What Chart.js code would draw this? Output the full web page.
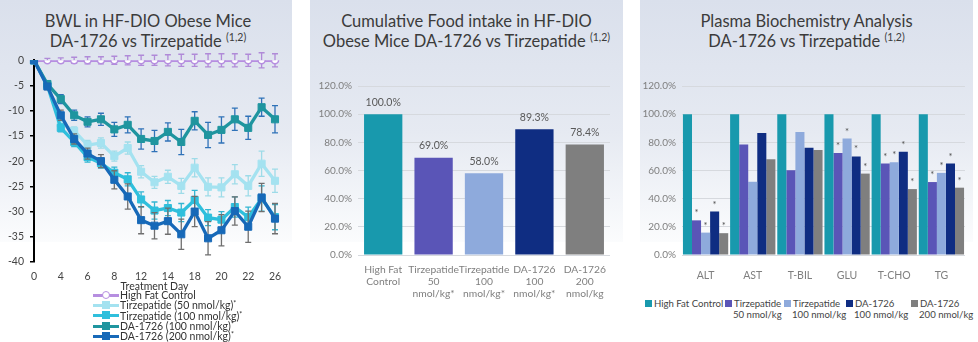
<!DOCTYPE html>
<html>
<head>
<meta charset="utf-8">
<script src="https://cdn.jsdelivr.net/npm/chart.js@4.4.1/dist/chart.umd.min.js"></script>
<style>
  body { margin: 0; width: 978px; height: 342px; background: #fff; font-family: Lato, "Open Sans", sans-serif; position: relative; overflow: hidden; }
  .panel { position: absolute; top: 0; height: 242px; background: linear-gradient(#dae0ec 0%, #e6eaf2 55%, #fbfcfd 100%); }
  .title { position: absolute; text-align: center; font-size: 16.5px; line-height: 19.5px; color: #3b3b3b; }
  .title sup { font-size: 10.5px; vertical-align: 6px; line-height: 0; }
  .cv { position: absolute; }
  .leg1 { position: absolute; left: 93px; top: 290px; font-size: 10.5px; line-height: 10.3px; color: #333; }
  .leg1 .row { display: flex; align-items: center; height: 10.3px; }
  .leg1 .sample { position: relative; width: 26px; height: 3px; margin-right: 1px; }
  .leg1 .mk { position: absolute; left: 9px; top: -3px; width: 8px; height: 8px; box-sizing: border-box; }
  .leg3 { position: absolute; top: 298px; font-size: 9.6px; line-height: 11px; color: #444; white-space: nowrap; }
  .leg3 .sq { display: inline-block; width: 7px; height: 7px; margin-right: 2px; vertical-align: 0px; }
</style>
</head>
<body>
<div class="panel" style="left:0;width:292px"></div>
<div class="panel" style="left:310px;width:313px"></div>
<div class="panel" style="left:640px;width:333px"></div>

<div class="title" style="left:0;width:296px;top:12px">BWL in HF-DIO Obese Mice<br>DA-1726 vs Tirzepatide <sup>(1,2)</sup></div>
<div class="title" style="left:305px;width:323px;top:12px">Cumulative Food intake in HF-DIO<br>Obese Mice DA-1726 vs Tirzepatide <sup>(1,2)</sup></div>
<div class="title" style="left:640px;width:333px;top:12px">Plasma Biochemistry Analysis<br>DA-1726 vs Tirzepatide <sup>(1,2)</sup></div>

<canvas id="bwl" class="cv" style="left:0;top:48px" width="292" height="245"></canvas>
<canvas id="food" class="cv" style="left:310px;top:74px" width="313" height="230"></canvas>
<canvas id="plasma" class="cv" style="left:640px;top:74px" width="333" height="210"></canvas>

<div class="leg1" id="leg1"></div>
<div id="leg3"></div>

<script>
// ---- body weight loss (%), by treatment day ----
const days = ["0", "2", "4", "5", "6", "7", "8", "10", "12", "13", "14", "16", "18", "19", "20", "21", "22", "24", "26"];
const bwlNames = ["High Fat Control", "Tirzepatide (50 nmol/kg)*", "Tirzepatide (100 nmol/kg)*", "DA-1726 (100 nmol/kg)*", "DA-1726 (200 nmol/kg)*"];
const bwlColors = ["#b68ee0", "#a4e2f0", "#2fbfdc", "#1f959f", "#1769b8"];
const errColors = ["#b08ad8", "#9edbe8", "#34b6d2", "#2f72b8", "#6f6f6f"];

const hfc   = [0, 0, 0, 0, 0, 0, 0, 0, 0, 0, 0, 0, 0, 0, 0, 0, 0, 0, 0];
const tirz50  = [0, -4.9, -12.5, -14.0, -16.8, -16.4, -19.0, -17.4, -22.1, -24.2, -23.1, -24.9, -21.3, -25.1, -25.2, -22.6, -24.9, -20.5, -23.9];
const tirz100 = [0, -5.0, -13.4, -16.2, -19.2, -20.4, -22.3, -23.6, -27.6, -29.8, -29.3, -30.2, -27.7, -31.2, -31.6, -29.1, -31.1, -27.4, -31.1];
const da100   = [0, -4.7, -7.7, -10.9, -12.2, -11.7, -13.7, -12.8, -15.6, -16.0, -14.2, -16.2, -12.0, -14.8, -13.8, -11.7, -13.4, -9.3, -11.7];
const da200   = [0, -5.2, -10.9, -15.6, -18.5, -20.0, -23.7, -27.0, -31.7, -32.8, -31.9, -34.5, -30.0, -35.3, -33.7, -29.9, -33.0, -27.2, -31.4];

// standard errors
const hfcErr     = [0, 0.4, 0.5, 0.6, 0.7, 0.7, 0.8, 0.9, 1.0, 1.0, 1.1, 1.2, 1.2, 1.3, 1.3, 1.3, 1.2, 1.5, 1.3];
const tirz50Err  = [0, 0.6, 0.8, 0.8, 0.9, 1.0, 1.0, 1.2, 1.2, 1.2, 1.3, 1.5, 1.8, 1.8, 1.9, 1.9, 2.0, 2.5, 2.3];
const tirz100Err = [0, 0.6, 0.8, 0.9, 1.0, 1.0, 1.1, 1.3, 1.5, 1.7, 1.5, 1.8, 1.9, 1.6, 1.6, 2.0, 2.0, 2.5, 2.5];
const da100Err   = [0, 0.6, 0.9, 1.0, 1.0, 1.2, 1.4, 1.6, 2.0, 2.1, 1.8, 2.5, 1.8, 2.5, 2.6, 2.2, 2.3, 1.8, 2.7];
const da200Err   = [0, 0.6, 1.0, 1.0, 1.1, 1.3, 1.8, 2.5, 2.7, 2.6, 2.6, 3.0, 3.0, 3.3, 3.1, 2.8, 3.1, 2.8, 3.0];

const bwlTicks = [0, -5, -10, -15, -20, -25, -30, -35, -40];

// ---- cumulative food intake (% of control) ----
const groupLabels = [["High Fat", "Control"], ["Tirzepatide", "50", "nmol/kg*"], ["Tirzepatide", "100", "nmol/kg*"], ["DA-1726", "100", "nmol/kg*"], ["DA-1726", "200", "nmol/kg"]];
const foodIntake = [100.0, 69.0, 58.0, 89.3, 78.4];
const barColors = ["#1899ad", "#5a55b7", "#8eaadc", "#0f2d82", "#7f7f7f"];

// ---- plasma biochemistry (% of control) ----
const markers = ["ALT", "AST", "T-BIL", "GLU", "T-CHO", "TG"];
const plasmaNames = [["High Fat Control"], ["Tirzepatide", "50 nmol/kg"], ["Tirzepatide", "100 nmol/kg"], ["DA-1726", "100 nmol/kg"], ["DA-1726", "200 nmol/kg"]];
const plasmaHfc     = [100, 100, 100, 100, 100, 100];
const plasmaTirz50  = [24.6, 78.5, 60.2, 72.4, 64.9, 51.8];
const plasmaTirz100 = [15.9, 52.0, 87.4, 82.7, 65.8, 58.3];
const plasmaDa100   = [30.9, 86.6, 76.1, 70.0, 73.3, 64.9];
const plasmaDa200   = [15.5, 67.9, 74.5, 57.8, 46.8, 47.8];
// significance flags (*) per marker
const sigTirz50  = [true, false, false, true, true, true];
const sigTirz100 = [true, false, false, true, true, true];
const sigDa100   = [true, false, false, true, true, true];
const sigDa200   = [true, false, false, true, true, true];

const FONT = "Lato";

// error bars, drawn just under each line
const errorBarPlugin = {
  id: "errorBars",
  beforeDatasetDraw(chart, args) {
    const ds = chart.data.datasets[args.index];
    if (!ds.errors) return;
    const y = chart.scales.y;
    const ctx = chart.ctx;
    ctx.save();
    ctx.strokeStyle = ds.errorColor;
    ctx.lineWidth = 1.3;
    args.meta.data.forEach((pt, i) => {
      const e = ds.errors[i];
      if (!e) return;
      const v = ds.data[i];
      const top = y.getPixelForValue(v + e);
      const bot = y.getPixelForValue(v - e);
      ctx.beginPath();
      ctx.moveTo(pt.x, top); ctx.lineTo(pt.x, bot);
      ctx.moveTo(pt.x - 3, top); ctx.lineTo(pt.x + 3, top);
      ctx.moveTo(pt.x - 3, bot); ctx.lineTo(pt.x + 3, bot);
      ctx.stroke();
    });
    ctx.restore();
  }
};

const bwlSeries = [hfc, tirz50, tirz100, da100, da200];
const bwlErrs = [hfcErr, tirz50Err, tirz100Err, da100Err, da200Err];

new Chart(document.getElementById("bwl"), {
  type: "line",
  data: {
    labels: days,
    datasets: bwlSeries.map((d, i) => ({
      label: bwlNames[i],
      data: d,
      errors: bwlErrs[i],
      errorColor: errColors[i],
      borderColor: bwlColors[i],
      backgroundColor: i === 0 ? "#ffffff" : bwlColors[i],
      pointBorderColor: bwlColors[i],
      pointStyle: i === 0 ? "circle" : "rect",
      pointRadius: i === 0 ? 3.5 : 5,
      pointBorderWidth: i === 0 ? 1.5 : 1,
      borderWidth: 3.3,
      tension: 0,
      order: 5 - i
    }))
  },
  options: {
    responsive: false,
    animation: false,
    layout: { padding: { top: 10, right: 17, left: 0, bottom: 0 } },
    plugins: { legend: { display: false }, tooltip: { enabled: false } },
    scales: {
      x: {
        type: "category",
        offset: false,
        grid: { display: false },
        border: { display: false },
        ticks: {
          autoSkip: false, maxRotation: 0, color: "#444", padding: 0,
          font: { family: FONT, size: 10.5 },
          callback: (v, i) => (i % 2 === 0 ? days[i] : "")
        },
        title: { display: true, text: "Treatment Day", color: "#333", font: { family: FONT, size: 10.5 }, padding: { top: 0, bottom: 0 } },
        afterFit: s => { s.height = 31; }
      },
      y: {
        min: -40, max: 0,
        afterBuildTicks: s => { s.ticks = bwlTicks.map(v => ({ value: v })); },
        grid: { drawOnChartArea: false, drawTicks: true, tickLength: 4, color: "#000", lineWidth: 1.5 },
        border: { display: true, color: "#000", width: 2 },
        ticks: { color: "#444", padding: 6, font: { family: FONT, size: 10.5 } },
        afterFit: s => { s.width = 34; }
      }
    }
  },
  plugins: [errorBarPlugin]
});

// value labels above bars
const barValuePlugin = {
  id: "barValues",
  afterDatasetsDraw(chart) {
    const ctx = chart.ctx;
    ctx.save();
    ctx.fillStyle = "#595959";
    ctx.font = "10.5px " + FONT;
    ctx.textAlign = "center";
    ctx.textBaseline = "middle";
    const ds = chart.data.datasets[0];
    chart.getDatasetMeta(0).data.forEach((bar, i) => {
      ctx.fillText(ds.data[i].toFixed(1) + "%", bar.x, bar.y - 12);
    });
    ctx.restore();
  }
};

const pctAxis = (leftWidth) => ({
  min: 0, max: 120,
  ticks: { stepSize: 20, color: "#7f7f7f", padding: 6, font: { family: FONT, size: 10 }, callback: v => v.toFixed(1) + "%" },
  grid: { color: "#d6d9de", lineWidth: 1, drawTicks: false },
  border: { display: false },
  afterFit: s => { s.width = leftWidth; }
});

new Chart(document.getElementById("food"), {
  type: "bar",
  data: {
    labels: groupLabels,
    datasets: [{
      data: foodIntake,
      backgroundColor: barColors,
      barPercentage: 0.76,
      categoryPercentage: 1
    }]
  },
  options: {
    responsive: false,
    animation: false,
    layout: { padding: { top: 10, right: 13, left: 0, bottom: 0 } },
    plugins: { legend: { display: false }, tooltip: { enabled: false } },
    scales: {
      x: {
        grid: { display: false },
        border: { display: false },
        ticks: { autoSkip: false, color: "#7f7f7f", padding: 1, maxRotation: 0, font: { family: FONT, size: 10.3, lineHeight: 1.15 } },
        afterFit: s => { s.height = 49; }
      },
      y: pctAxis(48)
    }
  },
  plugins: [barValuePlugin]
});

// significance stars above bars
const starPlugin = {
  id: "stars",
  afterDatasetsDraw(chart) {
    const ctx = chart.ctx;
    ctx.save();
    ctx.fillStyle = "#555";
    ctx.font = "9.5px " + FONT;
    ctx.textAlign = "center";
    ctx.textBaseline = "middle";
    chart.data.datasets.forEach((ds, di) => {
      if (!ds.sig) return;
      chart.getDatasetMeta(di).data.forEach((bar, i) => {
        if (ds.sig[i]) ctx.fillText("*", bar.x, bar.y - 7);
      });
    });
    ctx.restore();
  }
};

const plasmaSeries = [plasmaHfc, plasmaTirz50, plasmaTirz100, plasmaDa100, plasmaDa200];
const plasmaSig = [null, sigTirz50, sigTirz100, sigDa100, sigDa200];

new Chart(document.getElementById("plasma"), {
  type: "bar",
  data: {
    labels: markers,
    datasets: plasmaSeries.map((d, i) => ({
      label: plasmaNames[i].join(" "),
      data: d,
      sig: plasmaSig[i],
      backgroundColor: barColors[i],
      barPercentage: 1,
      categoryPercentage: 0.96
    }))
  },
  options: {
    responsive: false,
    animation: false,
    layout: { padding: { top: 10, right: 8, left: 0, bottom: 0 } },
    plugins: { legend: { display: false }, tooltip: { enabled: false } },
    scales: {
      x: {
        grid: { display: false },
        border: { display: false },
        ticks: { autoSkip: false, color: "#7f7f7f", padding: 6, maxRotation: 0, font: { family: FONT, size: 10.5 } },
        afterFit: s => { s.height = 29; }
      },
      y: pctAxis(42)
    }
  },
  plugins: [starPlugin]
});

// legend for the weight-loss chart
const leg1 = document.getElementById("leg1");
bwlNames.forEach((name, i) => {
  const row = document.createElement("div");
  row.className = "row";
  const sample = document.createElement("div");
  sample.className = "sample";
  sample.style.background = bwlColors[i];
  const mk = document.createElement("div");
  mk.className = "mk";
  if (i === 0) {
    mk.style.background = "#fff";
    mk.style.border = "1.5px solid " + bwlColors[0];
    mk.style.borderRadius = "50%";
  } else {
    mk.style.background = bwlColors[i];
  }
  sample.appendChild(mk);
  const txt = document.createElement("span");
  txt.innerHTML = name.replace("*", "<sup style='font-size:7px;vertical-align:3px;line-height:0'>*</sup>");
  row.appendChild(sample);
  row.appendChild(txt);
  leg1.appendChild(row);
});

// legend for the plasma chart
const leg3Left = [645, 725, 784, 846, 911];
const leg3 = document.getElementById("leg3");
plasmaNames.forEach((lines, i) => {
  const item = document.createElement("div");
  item.className = "leg3";
  item.style.left = leg3Left[i] + "px";
  item.innerHTML = "<span class='sq' style='background:" + barColors[i] + "'></span>" + lines[0] +
    (lines[1] ? "<br><span style='padding-left:8px'>" + lines[1] + "</span>" : "");
  leg3.appendChild(item);
});
</script>
</body>
</html>
